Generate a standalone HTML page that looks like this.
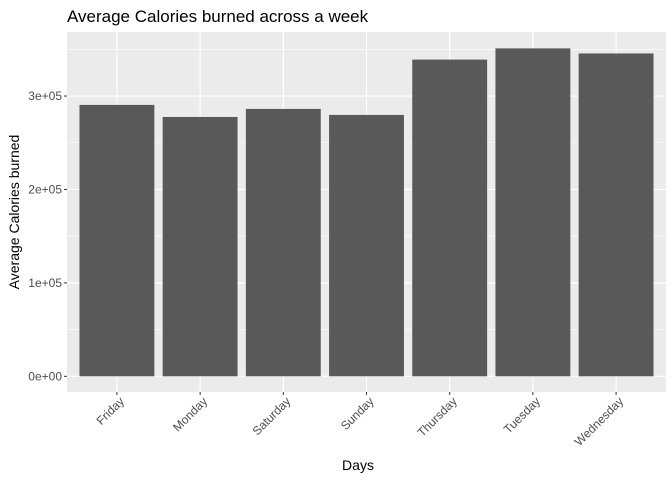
<!DOCTYPE html>
<html><head><meta charset="utf-8"><style>
body{margin:0;background:#fff;font-family:"Liberation Sans",Arial,sans-serif}
</style></head><body>
<svg id="chart" width="672" height="480" xmlns="http://www.w3.org/2000/svg">
<rect width="672" height="480" fill="#fff"/>
<text x="67" y="22" font-size="17" fill="#000">Average Calories burned across a week</text>
<rect id="panel" x="67" y="32" width="599" height="360" fill="#ebebeb"/>
<g id="grid"></g><g id="bars"></g><g id="axes"></g>
<text x="358" y="470" font-size="14" text-anchor="middle" fill="#000">Days</text>
<text transform="translate(19,212) rotate(-90)" font-size="14" text-anchor="middle" fill="#000">Average Calories burned</text>
</svg>
<script>
const categories=["Friday","Monday","Saturday","Sunday","Thursday","Tuesday","Wednesday"];
const values=[290500,277600,286200,279800,339000,351000,345600];
const yTicks=[0,100000,200000,300000];
const yTickLabels=["0e+00","1e+05","2e+05","3e+05"];
const NS="http://www.w3.org/2000/svg";
const L=67,R=666,T=32,B=392;
const yMax=Math.max(...values)*1.05;
function y(v){return 376.3-(v/yMax)*(376.3-T);}
const step=(R-L)/(categories.length+0.2);
function x(i){return L+step*(0.6+i);}
function mk(tag,attrs,parent){const e=document.createElementNS(NS,tag);for(const k in attrs)e.setAttribute(k,attrs[k]);document.getElementById(parent).appendChild(e);return e;}
const minor=[];for(let i=0;i<yTicks.length;i++)minor.push(yTicks[i]+50000);
minor.forEach(v=>{if(y(v)>T){const l=mk('line',{x1:L,x2:R,y1:y(v),y2:y(v),stroke:'#fff','stroke-width':0.6},'grid');

}});
yTicks.forEach((v,i)=>{const l=mk('line',{x1:L,x2:R,y1:y(v),y2:y(v),stroke:'#fff','stroke-width':1.2},'grid');


const t=mk('line',{x1:L-3,x2:L,y1:y(v),y2:y(v),stroke:'#333','stroke-width':1},'axes');


const tx=mk('text',{x:L-5,y:y(v)+4,'font-size':12,'text-anchor':'end',fill:'#4d4d4d'},'axes');tx.textContent=yTickLabels[i];

});
categories.forEach((c,i)=>{const cx=x(i);
const g=mk('line',{x1:cx,x2:cx,y1:T,y2:B,stroke:'#fff','stroke-width':1.2},'grid');


const w=step*0.9;
const b=mk('rect',{x:cx-w/2,y:y(values[i]),width:w,height:y(0)-y(values[i]),fill:'#595959'},'bars');


const t=mk('line',{x1:cx,x2:cx,y1:B,y2:B+3,stroke:'#333','stroke-width':1},'axes');


const tx=mk('text',{transform:'translate('+(cx+8)+','+(B+10)+') rotate(-45)','font-size':12,'text-anchor':'end',fill:'#4d4d4d'},'axes');tx.textContent=c;

});
</script>
</body></html>
